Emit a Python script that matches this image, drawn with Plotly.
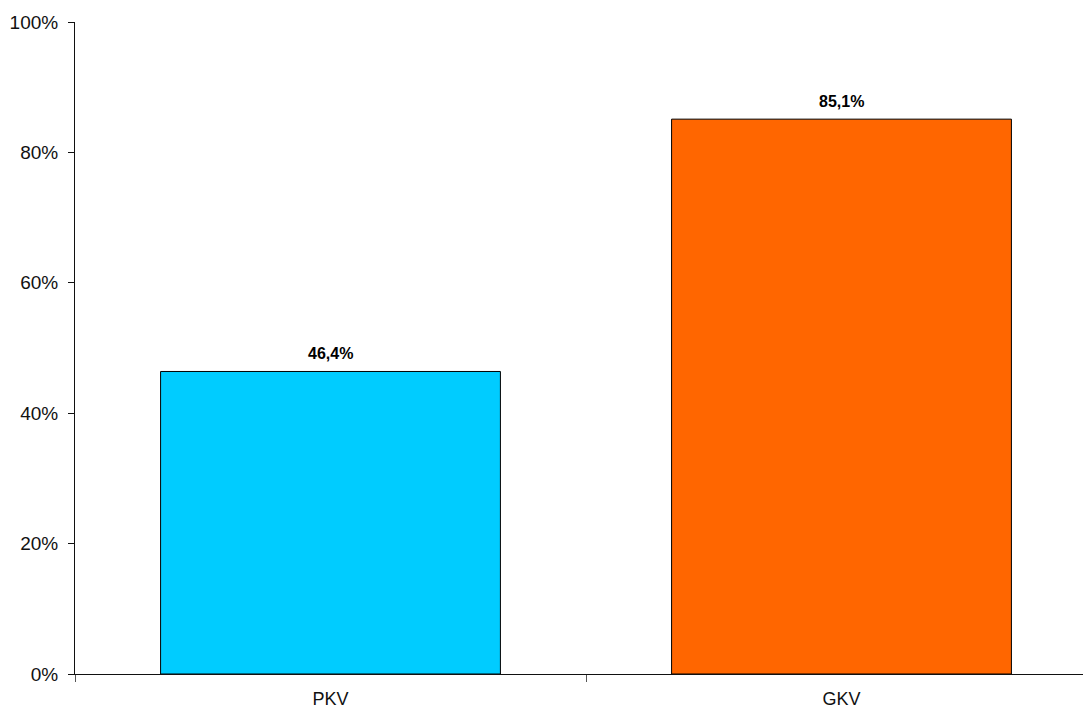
import plotly.graph_objects as go

categories = ["PKV", "GKV"]
values = [46.4, 85.1]
labels = ["46,4%", "85,1%"]
colors = ["#00CCFF", "#FF6600"]
y_ticks = [0, 20, 40, 60, 80, 100]
y_ticktext = ["0%", "20%", "40%", "60%", "80%", "100%"]

FONT = "Liberation Sans, Arial, sans-serif"

fig = go.Figure(
    go.Bar(
        x=categories,
        y=values,
        marker=dict(color=colors, line=dict(color="#000000", width=1)),
        cliponaxis=False,
    )
)

for cat, val, lab in zip(categories, values, labels):
    fig.add_annotation(
        x=cat, y=val, text=lab, showarrow=False,
        yanchor="bottom", yshift=7,
        font=dict(family=FONT, size=16, color="#000000", weight="bold"),
    )

fig.update_layout(
    width=1083,
    height=711,
    margin=dict(l=75, r=0, t=22, b=37),
    paper_bgcolor="white",
    plot_bgcolor="white",
    bargap=0.335,
    showlegend=False,
    font=dict(family=FONT, size=19, color="#111111"),
)
fig.update_xaxes(
    range=[-0.5, 1.4726],
    showline=True,
    linecolor="#111111",
    linewidth=1,
    ticks="outside",
    tickson="boundaries",
    ticklen=7,
    tickcolor="#555555",
    showgrid=False,
    tickfont=dict(size=18),
    ticklabelstandoff=8,
    automargin=False,
)
fig.update_yaxes(
    range=[0, 100],
    tickvals=y_ticks,
    ticktext=y_ticktext,
    showline=True,
    linecolor="#111111",
    linewidth=1,
    ticks="outside",
    ticklen=6,
    tickcolor="#111111",
    showgrid=False,
    zeroline=False,
    ticklabelstandoff=6,
    automargin=False,
)

fig.write_html("out.html")
